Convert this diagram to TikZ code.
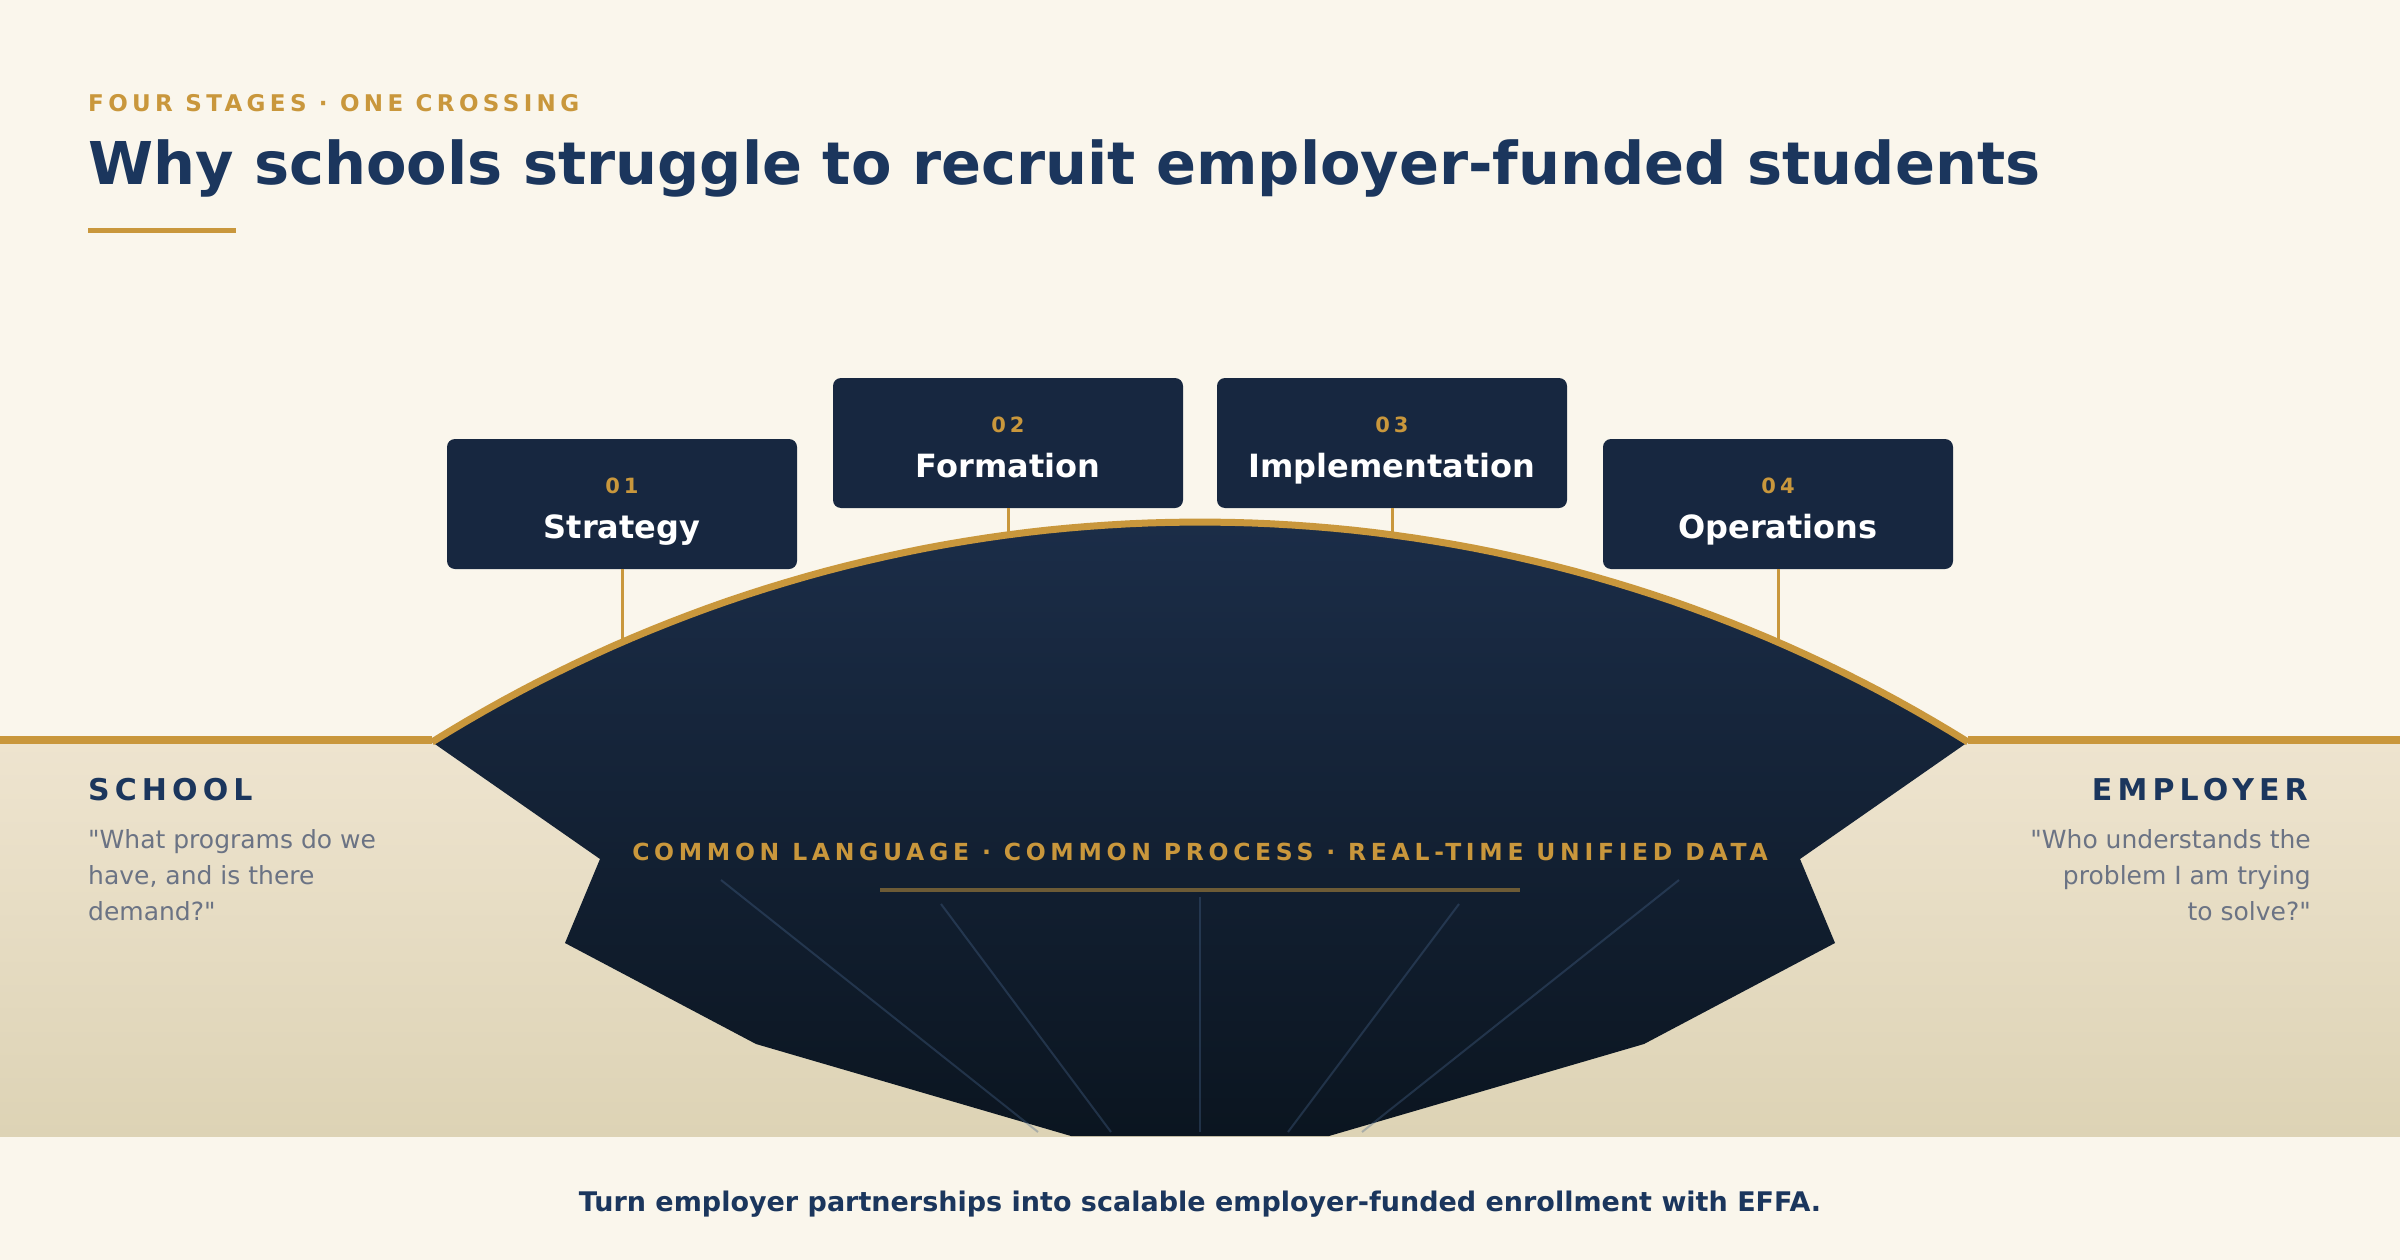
\documentclass[tikz,border=0pt]{standalone}
\usepackage{fontspec}
\setmainfont{DejaVu Sans}
\newfontfamily\tracked[LetterSpace=19]{DejaVu Sans}
\newfontfamily\trackedcommon[LetterSpace=20]{DejaVu Sans}
\newfontfamily\trackedwide[LetterSpace=17]{DejaVu Sans}
\newfontfamily\quotefont{DejaVu Sans}
\usetikzlibrary{positioning}
\definecolor{cream}{HTML}{FAF6EC}
\definecolor{sand}{HTML}{EEE4CF}
\definecolor{sanddark}{HTML}{DDD3B5}
\definecolor{navy}{HTML}{1B365D}
\definecolor{ink}{HTML}{172740}
\definecolor{inktop}{HTML}{1B2D48}
\definecolor{inkbot}{HTML}{0B1520}
\definecolor{gold}{HTML}{C9973C}
\definecolor{slate}{HTML}{6B7384}
\definecolor{rib}{HTML}{4A6890}
\tikzset{
stagebox/.style={fill=ink, rounded corners=8pt, minimum width=350pt,
    minimum height=130pt, inner sep=0pt},
stagenum/.style={text=gold, inner sep=0pt, anchor=base,
    font=\tracked\bfseries\fontsize{21}{21}\selectfont},
stagename/.style={text=white, inner sep=0pt, anchor=base,
    font=\bfseries\fontsize{32}{32}\selectfont},
stem/.style={draw=gold, line width=3pt},
side/.style={text=navy, inner sep=0pt,
    font=\trackedwide\bfseries\fontsize{30}{30}\selectfont},
quote/.style={text=slate, inner sep=0pt,
    font=\quotefont\fontsize{25}{36}\selectfont}
}

\begin{document}
\begin{tikzpicture}[x=1pt, y=-1pt]
	\useasboundingbox (0,0) rectangle (2400,1260);
	\fill[cream] (0,0) rectangle (2400,1260);
	\shade[top color=sand, bottom color=sanddark] (0,740) rectangle (2400,1136);
	% header
	\node[anchor=base west, inner sep=0pt, text=gold,
	  font=\tracked\bfseries\fontsize{23}{23}\selectfont] (kicker) at (88,112)
	  {FOUR STAGES · ONE CROSSING};
	\node[anchor=base west, inner sep=0pt, text=navy,
	  font=\bfseries\fontsize{59}{59}\selectfont] (title) at (88,185)
	  {Why schools struggle to recruit employer-funded students};
	\fill[gold] (88,228) rectangle (236,233);
	% crossing
	\coordinate (L) at (432,742);
	\coordinate (R) at (1968,742);
	\shade[top color=inktop, bottom color=inkbot]
	  plot[domain=-31.97:31.97, samples=80]
	  ({1200+1450.5*sin(\x)}, {1972.5-1450.5*cos(\x)})
	  -- (1800,859) -- (1835,943) -- (1644,1044) -- (1329,1136)
	  -- (1071,1136) -- (756,1044) -- (565,943) -- (600,859) -- cycle;
	\foreach \a/\b/\c/\d in {721/880/1038/1132, 941/904/1111/1132,
	  1200/897/1200/1132, 1459/904/1288/1132, 1679/880/1362/1132}
	  \draw[rib, opacity=0.35, line width=2pt] (\a,\b) -- (\c,\d);
	\draw[gold, line width=7pt]
	  plot[domain=-31.97:31.97, samples=80]
	  ({1200+1450.5*sin(\x)}, {1972.5-1450.5*cos(\x)});
	\draw[gold, line width=7.5pt] (0,740) -- (L |- 0,740);
	\draw[gold, line width=7.5pt] (R |- 0,740) -- (2400,740);
	\node[anchor=base, inner sep=0pt, text=gold,
	  font=\trackedcommon\bfseries\fontsize{23.5}{23.5}\selectfont] (common) at (1200,860)
	  {COMMON LANGUAGE · COMMON PROCESS · REAL-TIME UNIFIED DATA};
	\draw[gold, opacity=0.5, line width=4pt] (880,890) -- (1520,890);
	% stages
	\foreach \n/\x/\y/\ay/\name in {1/622/504/642.6/Strategy,
	  2/1008/443/534.8/Formation, 3/1392/443/534.8/Implementation,
	  4/1778/504/642.6/Operations}{
	  \node[stagebox] (s\n) at (\x,\y) {};
	  \node[stagenum] at ([yshift=11pt]s\n.center) {0\n};
	  \node[stagename] at ([yshift=-34pt]s\n.center) {\name};
	  \coordinate (a\n) at (\x,\ay);
	  \draw[stem] (s\n.south) -- (a\n);
	}
	% sides
	\node[side, anchor=base west] (school) at (88,800) {SCHOOL};
	\node[quote, anchor=base west, align=left] (schoolq) at (88,920)
	  {"What programs do we\\have, and is there\\demand?"};
	\node[side, anchor=base east] (employer) at (2308,800) {EMPLOYER};
	\node[quote, anchor=base east, align=right] (employerq) at (2311,920)
	  {"Who understands the\\problem I am trying\\to solve?"};
	\node[anchor=base, inner sep=0pt, text=navy,
	  font=\bfseries\fontsize{27}{27}\selectfont] (closing) at (1200,1211)
	  {Turn employer partnerships into scalable employer-funded enrollment with EFFA.};
\end{tikzpicture}
\end{document}
